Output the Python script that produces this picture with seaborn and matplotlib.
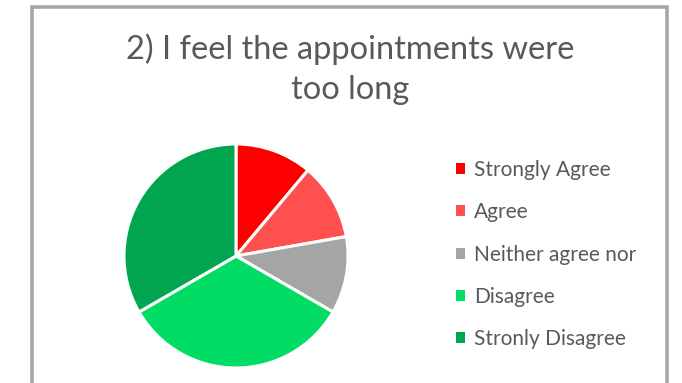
import matplotlib
matplotlib.use("Agg")
import matplotlib.pyplot as plt
import seaborn as sns
from matplotlib.patches import Patch
from matplotlib.lines import Line2D

categories = ["Strongly Agree", "Agree", "Neither agree nor", "Disagree", "Stronly Disagree"]
values = [1, 1, 1, 3, 3]
colors = ["#FF0000", "#FF5050", "#A5A5A5", "#00DC64", "#00A550"]
title = "2) I feel the appointments were\ntoo long"

sns.set_theme(style="white")
plt.rcParams["font.family"] = ["Lato", "DejaVu Sans"]

W, H = 682, 383
fig = plt.figure(figsize=(W / 100, H / 100), dpi=100)
fig.patch.set_facecolor("white")

# frame (open at bottom)
fc = "#A6A6A6"
x0, x1, y0 = 31.5 / W, 666.5 / W, 1 - 7.3 / H
fig.add_artist(Line2D([x0, x0, x1, x1], [-0.1, y0, y0, -0.1], color=fc, lw=2.6,
                      transform=fig.transFigure, solid_joinstyle="miter"))

# pie axes
cx, cy, r = 236, 256, 112
side = 240
ax = fig.add_axes([(cx - side / 2) / W, (H - cy - side / 2) / H, side / W, side / H])
wedges, _ = ax.pie(values, colors=colors, startangle=90, counterclock=False,
                   radius=r / (side / 2),
                   wedgeprops=dict(edgecolor="white", linewidth=2.2))
ax.set_xlim(-1, 1)
ax.set_ylim(-1, 1)
ax.set_aspect("equal")
ax.axis("off")

fig.text(350 / W, 1 - 69 / H, title, ha="center", va="center", fontsize=23.5,
         color="#595959", linespacing=1.42)

handles = [Patch(facecolor=c, edgecolor="none") for c in colors]
leg = fig.legend(handles, categories, loc="upper left",
                 bbox_to_anchor=(456 / W, 1 - 160 / H), frameon=False,
                 fontsize=15, labelcolor="#595959", handlelength=0.45,
                 handleheight=0.45, handletextpad=0.4, labelspacing=1.07,
                 borderpad=0, borderaxespad=0)

fig.savefig("out.png", dpi=100, facecolor="white")
